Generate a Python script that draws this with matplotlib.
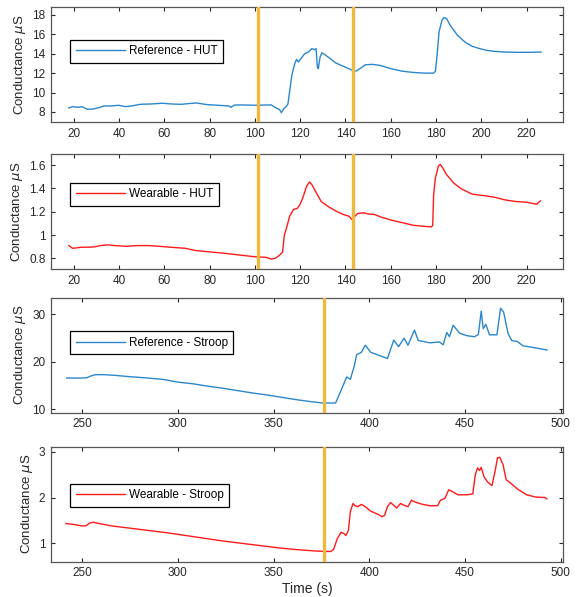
import matplotlib
matplotlib.use("Agg")
import matplotlib.pyplot as plt

plt.rcParams['font.family'] = ['Liberation Sans', 'DejaVu Sans']
plt.rcParams['mathtext.fontset'] = 'dejavusans'

# reference sensor, head-up tilt
ref_hut_t = [17.9, 19.5, 22, 23.6, 26, 28.5, 31.7, 33.3, 36.6, 39.8, 43, 45.5, 49.6, 54.5,
             59.3, 62.6, 67.5, 70.7, 74, 78.9, 83.7, 88.6, 89.4, 91.1, 95.1, 100, 104.9,
             107.3, 108.9, 110.9, 111.7, 112.7, 113.8, 114.6, 115.4, 116.3, 117.6, 118.4,
             119.2, 120.3, 122, 123.6, 125.2, 126.3, 127, 127.6, 128, 128.8, 129.6, 130.9,
             133.3, 135.8, 138.2, 141.5, 143.1, 144.7, 146.3, 148.8, 152, 155.3, 160.2,
             165, 169.9, 174.8, 178.9, 179.7, 180.5, 181.3, 182.6, 183.4, 184.6, 186.2,
             189.4, 192.7, 195.9, 199.2, 202.4, 205.7, 210.6, 215.4, 221.9, 226.3]
ref_hut_g = [8.41, 8.55, 8.48, 8.55, 8.28, 8.3, 8.48, 8.62, 8.62, 8.69, 8.55, 8.62, 8.79, 8.83,
             8.9, 8.83, 8.79, 8.86, 8.93, 8.76, 8.69, 8.62, 8.48, 8.72, 8.72, 8.69, 8.72,
             8.72, 8.48, 8.24, 7.93, 8.31, 8.55, 8.83, 10.2, 11.76, 12.97, 13.41,
             13.14, 13.48, 14.0, 14.17, 14.52, 14.41, 14.52, 12.62, 12.45, 13.66, 14.1, 13.9,
             13.48, 13.03, 12.79, 12.45, 12.28, 12.2, 12.45, 12.86, 12.9, 12.79, 12.45,
             12.2, 12.07, 12.0, 12.0, 12.2, 14.0, 16.24, 17.45, 17.72, 17.62, 16.93,
             15.9, 15.2, 14.76, 14.52, 14.34, 14.24, 14.17, 14.14, 14.14, 14.17]

# wearable sensor, head-up tilt
wear_hut_t = [17.9, 19.5, 21.1, 23.6, 26.8, 29.3, 31.7, 35, 38.2, 43.1, 48, 52.8, 57.7, 62.6,
              69.1, 74, 78.9, 85.4, 91.9, 100, 104.9, 107.3, 108.9, 110.6, 112.2, 113,
              114.3, 115.4, 117.1, 118.7, 119.8, 121.1, 122.8, 124.1, 125.2, 126.8, 129.3,
              132.5, 135.8, 139, 141.5, 143.1, 143.9, 145.5, 148, 150.4, 152.8, 155.3, 160.2,
              165, 169.9, 174.8, 178, 178.5, 178.9, 179.7, 181, 181.8, 182.9, 184.6, 187.8,
              191.1, 195.9, 200.8, 205.7, 210.6, 215.4, 220.3, 224.4, 226]
wear_hut_g = [0.91, 0.887, 0.89, 0.896, 0.896, 0.899, 0.91, 0.916, 0.91, 0.904, 0.91, 0.91, 0.904, 0.896,
              0.887, 0.867, 0.858, 0.846, 0.832, 0.814, 0.809, 0.794, 0.8, 0.823, 0.852, 0.997,
              1.084, 1.165, 1.22, 1.229, 1.258, 1.316, 1.417, 1.455, 1.432, 1.374, 1.287,
              1.243, 1.206, 1.177, 1.162, 1.128, 1.157, 1.186, 1.191, 1.18, 1.177, 1.157, 1.128,
              1.107, 1.084, 1.075, 1.07, 1.084, 1.345, 1.49, 1.591, 1.606, 1.577, 1.519, 1.446,
              1.397, 1.351, 1.339, 1.325, 1.301, 1.287, 1.281, 1.264, 1.293]

# reference sensor, Stroop test
ref_str_t = [241.9, 245.7, 249.6, 252.5, 254.5, 257, 261.2, 267.1, 274.8, 284.5, 292.2, 300,
             307.8, 315.5, 323.3, 331, 338.8, 346.5, 354.3, 362, 369.8, 375.6, 382.4, 385.3,
             388.2, 390.1, 392.1, 393.4, 395.9, 397.9, 400.8, 409.5, 412.8, 415.3, 418.2,
             420.2, 423.6, 425.6, 431.8, 436.6, 438.6, 440.5, 441.9, 443.8, 447.3, 451.2,
             455, 457, 458.5, 459.5, 460.9, 462.8, 466.7, 468.6, 470.2, 472.5, 474.4,
             477.3, 480.2, 486, 492.8]
ref_str_g = [16.57, 16.57, 16.57, 16.64, 17.0, 17.29, 17.29, 17.14, 16.86, 16.57, 16.29, 15.71,
             15.36, 14.86, 14.43, 13.93, 13.43, 13.0, 12.5, 12.0, 11.57, 11.3, 11.3, 14.0,
             16.8, 16.3, 19.0, 21.5, 22.0, 23.5, 22.0, 20.7, 24.6, 23.2, 25.0,
             23.5, 26.7, 24.5, 24.0, 24.2, 23.6, 26.2, 25.3, 27.7, 26.0, 25.5,
             25.3, 25.8, 30.7, 27.0, 27.9, 25.7, 25.7, 31.3, 30.5, 26.0, 24.5,
             24.3, 23.4, 23.0, 22.5]

# wearable sensor, Stroop test
wear_str_t = [241.5, 245.7, 249.6, 251.9, 253.9, 255.8, 257.8, 265.1, 274.8, 284.5, 294.2,
              303.9, 313.6, 323.3, 332.9, 342.6, 352.3, 362, 371.7, 377.5, 380, 381.4, 383.3,
              385.3, 386.8, 387.8, 389.1, 390.1, 391.5, 392.6, 394, 395.9, 397.9, 400.8,
              404.7, 406.6, 408, 409.5, 411.1, 412.8, 414.3, 416.3, 418.2, 420.2, 422.1, 424,
              427.9, 431.8, 435.7, 437.2, 439.5, 441.5, 443.4, 446.3, 451.2, 454.1, 455.4,
              456.6, 457.6, 458.5, 459.9, 461.8, 464.1, 465.7, 467, 468.2, 469.9, 471.5, 474,
              477.3, 482.2, 487, 491.9, 492.8]
wear_str_g = [1.43, 1.41, 1.38, 1.38, 1.44, 1.46, 1.44, 1.38, 1.33, 1.28, 1.23,
              1.17, 1.11, 1.05, 1.0, 0.95, 0.9, 0.86, 0.83, 0.82, 0.82, 0.87, 1.1,
              1.24, 1.21, 1.17, 1.28, 1.69, 1.87, 1.82, 1.8, 1.85, 1.8, 1.7,
              1.63, 1.58, 1.61, 1.8, 1.89, 1.83, 1.77, 1.87, 1.83, 1.8, 1.94, 1.9,
              1.85, 1.82, 1.82, 1.94, 1.98, 2.17, 2.13, 2.06, 2.06, 2.08, 2.5,
              2.65, 2.59, 2.66, 2.46, 2.34, 2.26, 2.57, 2.87, 2.88, 2.72, 2.39, 2.31,
              2.19, 2.06, 2.01, 2.0, 1.97]

hut_marks = [101.6, 143.4]
stroop_marks = [376.5]

blue = '#2b87cc'
red = '#ff1a1a'
orange = '#f0b93e'
grey = '#262626'

panels = [
    (ref_hut_t, ref_hut_g, blue, 'Reference - HUT', hut_marks, (10, 236), (6.93, 18.76),
     list(range(20, 221, 20)), [8, 10, 12, 14, 16, 18], ['8', '10', '12', '14', '16', '18'], 0.717),
    (wear_hut_t, wear_hut_g, red, 'Wearable - HUT', hut_marks, (10, 236), (0.707, 1.693),
     list(range(20, 221, 20)), [0.8, 1.0, 1.2, 1.4, 1.6], ['0.8', '1', '1.2', '1.4', '1.6'], 0.75),
    (ref_str_t, ref_str_g, blue, 'Reference - Stroop', stroop_marks, (233.7, 501.2), (9.29, 33.57),
     list(range(250, 501, 50)), [10, 20, 30], ['10', '20', '30'], 0.706),
    (wear_str_t, wear_str_g, red, 'Wearable - Stroop', stroop_marks, (233.7, 501.2), (0.594, 3.11),
     list(range(250, 501, 50)), [1, 2, 3], ['1', '2', '3'], 0.675),
]

fig = plt.figure(figsize=(5.82, 5.97), dpi=100)
bottoms = [0.795, 0.549, 0.309, 0.059]

for (t, g, col, lab, marks, xl, yl, xt, yt, ytl, legy), b in zip(panels, bottoms):
    ax = fig.add_axes([0.0876, b, 0.8797, 0.1926])
    ax.plot(t, g, color=col, lw=1.0, label=lab)
    for m in marks:
        ax.axvline(m, color=orange, lw=2.4, zorder=3)
    ax.set_xlim(*xl)
    ax.set_ylim(*yl)
    ax.set_xticks(xt)
    ax.set_yticks(yt)
    ax.set_yticklabels(ytl)
    ax.tick_params(direction='in', length=3, width=0.8, top=True, right=True,
                   labelsize=8.5, colors=grey, pad=4)
    for s in ax.spines.values():
        s.set_color('#555555')
        s.set_linewidth(0.9)
    ax.set_ylabel('Conductance $\\mu$S', fontsize=9.5, color=grey, labelpad=3)
    leg = ax.legend(loc='upper left', bbox_to_anchor=(0.038, legy), borderaxespad=0,
                    fontsize=8.5, handlelength=4.2, fancybox=False, framealpha=1,
                    borderpad=0.45, handletextpad=0.3)
    leg.get_frame().set_edgecolor('black')
    leg.get_frame().set_linewidth(0.9)
    if b == bottoms[-1]:
        ax.set_xlabel('Time (s)', fontsize=10, color=grey, labelpad=2)

fig.savefig('out.png', dpi=100)
